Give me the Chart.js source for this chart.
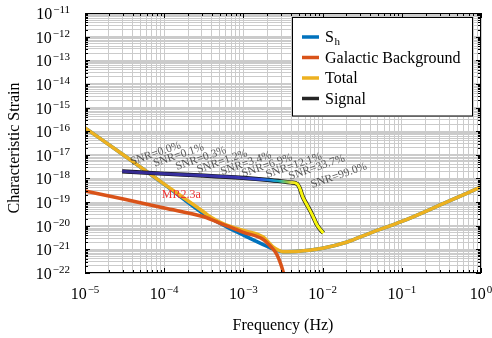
<!DOCTYPE html>
<html>
<head>
<meta charset="utf-8">
<script src="https://cdn.jsdelivr.net/npm/chart.js@4.4.1/dist/chart.umd.min.js"></script>
<style>
  html, body { margin: 0; padding: 0; background: #fff; }
  #wrap { width: 492px; height: 338px; }
</style>
</head>
<body>
<div id="wrap"><canvas id="strain" width="492" height="338"></canvas></div>
<script>
// instrument noise (Hz -> characteristic strain)
const shFreq   = [1e-5, 3.16e-5, 1e-4, 3.16e-4, 5.62e-4, 1e-3, 1.78e-3, 2.51e-3, 3.16e-3, 5.0e-3, 1e-2, 2.0e-2, 3.98e-2, 0.1, 0.316, 1];
const shStrain = [1.38e-16, 9.12e-18, 5.62e-19, 3.16e-20, 1.05e-20, 3.98e-21, 1.58e-21, 9.55e-22, 7.94e-22, 8.32e-22, 1.12e-21, 2.0e-21, 4.9e-21, 1.51e-20, 7.94e-20, 4.37e-19];

// galactic confusion foreground
const galFreq   = [1e-5, 3.16e-5, 1e-4, 3.16e-4, 5.62e-4, 1e-3, 1.78e-3, 2.24e-3, 2.63e-3, 2.95e-3, 3.24e-3, 3.55e-3];
const galStrain = [2.95e-19, 1.32e-19, 5.62e-20, 2.4e-20, 1.12e-20, 5.25e-21, 2.63e-21, 1.26e-21, 6.31e-22, 2.51e-22, 8.91e-23, 2.51e-23];

// combined sensitivity
const totalFreq   = [1e-5, 3.16e-5, 1e-4, 3.16e-4, 3.8e-4, 5.62e-4, 1e-3, 1.78e-3, 2.34e-3, 2.75e-3, 3.16e-3, 5.0e-3, 1e-2, 2.0e-2, 3.98e-2, 0.1, 0.316, 1];
const totalStrain = [1.38e-16, 9.12e-18, 5.75e-19, 3.8e-20, 2.4e-20, 1.2e-20, 6.31e-21, 3.31e-21, 1.32e-21, 9.33e-22, 7.94e-22, 8.32e-22, 1.12e-21, 2.0e-21, 4.9e-21, 1.51e-20, 7.94e-20, 4.37e-19];

// source track
const sigFreq   = [2.95e-5, 1e-4, 3.16e-4, 1e-3, 2.0e-3, 3.16e-3, 3.98e-3, 4.79e-3, 5.13e-3, 5.62e-3, 6.31e-3, 7.41e-3, 8.51e-3, 1.02e-2];
const sigStrain = [2.0e-18, 1.58e-18, 1.32e-18, 1.05e-18, 8.71e-19, 7.41e-19, 6.76e-19, 5.89e-19, 3.98e-19, 1.66e-19, 7.94e-20, 2.88e-20, 1.07e-20, 4.9e-21];

// accumulated SNR markers along the track
const snrText   = ['SNR=0.0%', 'SNR=0.1%', 'SNR=0.3%', 'SNR=1.2%', 'SNR=3.4%', 'SNR=6.9%', 'SNR=12.1%', 'SNR=33.7%', 'SNR=99.0%'];
const snrFreq   = [3.89e-5, 7.59e-5, 1.45e-4, 2.69e-4, 5.37e-4, 9.89e-4, 2.0e-3, 3.89e-3, 7.41e-3];
const snrStrain = [3.72e-18, 3.09e-18, 2.29e-18, 1.70e-18, 1.41e-18, 1.15e-18, 1.05e-18, 8.71e-19, 3.98e-19];

const mrText = 'MR2.3a';
const mrFreq = 9.33e-5;
const mrStrain = 1.48e-19;

const xExp = [-5, -4, -3, -2, -1, 0];
const yExp = [-22, -21, -20, -19, -18, -17, -16, -15, -14, -13, -12, -11];

const SERIF = "'Liberation Serif', 'Times New Roman', serif";
const C_SH = '#0072BD';
const C_GAL = '#D95319';
const C_TOT = '#EDB120';
const C_SIG = '#262626';

// colour along the signal track, dark early on, yellow near merger
const signalStops = [
  [2.95e-5, '#35298f'],
  [1.0e-3, '#3a36b2'],
  [1.6e-3, '#3048d6'],
  [2.2e-3, '#1685d6'],
  [2.8e-3, '#1cb1b6'],
  [3.4e-3, '#7fc35c'],
  [4.0e-3, '#d9d23c'],
  [4.5e-3, '#f7f20f'],
  [1.2e-2, '#f9fb0e']
];

function pts(xs, ys) {
  return xs.map((x, i) => ({ x, y: ys[i] }));
}

function decadeTicks(lo, hi) {
  const out = [];
  for (let e = lo; e < hi; e++) {
    for (let m = 1; m < 10; m++) out.push({ value: m * Math.pow(10, e), major: m === 1 });
  }
  out.push({ value: Math.pow(10, hi), major: true });
  return out;
}

function signalGradient(context) {
  const chart = context.chart;
  const area = chart.chartArea;
  if (!area) return signalStops[0][1];
  const xs = chart.scales.x;
  const g = chart.ctx.createLinearGradient(area.left, 0, area.right, 0);
  signalStops.forEach(([f, c]) => {
    const off = (xs.getPixelForValue(f) - area.left) / (area.right - area.left);
    g.addColorStop(Math.min(1, Math.max(0, off)), c);
  });
  return g;
}

// "10" with a raised exponent
function drawPow(ctx, exp, x, baseY, align) {
  const big = '16px ' + SERIF;
  const small = '11px ' + SERIF;
  const sup = exp < 0 ? '\u2212' + Math.abs(exp) : String(exp);
  ctx.font = big;
  const w1 = ctx.measureText('10').width;
  ctx.font = small;
  const w2 = ctx.measureText(sup).width;
  const total = w1 + w2 + 1;
  let x0 = align === 'right' ? x - total : x - total / 2;
  ctx.textAlign = 'left';
  ctx.textBaseline = 'alphabetic';
  ctx.font = big;
  ctx.fillText('10', x0, baseY);
  ctx.font = small;
  ctx.fillText(sup, x0 + w1 + 1, baseY - 6);
}

const framePlugin = {
  id: 'frame',
  afterDatasetsDraw(chart) {
    const { ctx, chartArea: a, scales } = chart;
    const xs = scales.x, ys = scales.y;
    ctx.save();

    // SNR annotations
    ctx.fillStyle = 'rgba(60,60,60,0.85)';
    ctx.font = '11.5px ' + SERIF;
    ctx.textAlign = 'left';
    ctx.textBaseline = 'alphabetic';
    snrText.forEach((t, i) => {
      ctx.save();
      ctx.translate(xs.getPixelForValue(snrFreq[i]), ys.getPixelForValue(snrStrain[i]));
      ctx.rotate(-19 * Math.PI / 180);
      ctx.fillText(t, 0, 0);
      ctx.restore();
    });
    ctx.fillStyle = '#f03434';
    ctx.font = '12px ' + SERIF;
    ctx.fillText(mrText, xs.getPixelForValue(mrFreq), ys.getPixelForValue(mrStrain));

    // inward ticks on all four sides
    ctx.strokeStyle = '#000';
    ctx.lineWidth = 1;
    ctx.beginPath();
    xs.ticks.forEach(t => {
      const px = Math.round(xs.getPixelForValue(t.value)) + 0.5;
      const len = t.major ? 5 : 3;
      ctx.moveTo(px, a.bottom); ctx.lineTo(px, a.bottom - len);
      ctx.moveTo(px, a.top); ctx.lineTo(px, a.top + len);
    });
    ys.ticks.forEach(t => {
      const py = Math.round(ys.getPixelForValue(t.value)) + 0.5;
      const len = t.major ? 5 : 3;
      ctx.moveTo(a.left, py); ctx.lineTo(a.left + len, py);
      ctx.moveTo(a.right, py); ctx.lineTo(a.right - len, py);
    });
    ctx.stroke();
    ctx.strokeRect(a.left + 0.5, a.top + 0.5, a.right - a.left - 1, a.bottom - a.top - 1);

    // tick labels
    ctx.fillStyle = '#000';
    xExp.forEach(e => drawPow(ctx, e, xs.getPixelForValue(Math.pow(10, e)), 298.5, 'center'));
    yExp.forEach(e => drawPow(ctx, e, 70, ys.getPixelForValue(Math.pow(10, e)) + 6, 'right'));

    // axis titles
    ctx.font = '16px ' + SERIF;
    ctx.textAlign = 'center';
    ctx.textBaseline = 'alphabetic';
    ctx.fillText('Frequency (Hz)', (a.left + a.right) / 2, 330);
    ctx.save();
    ctx.translate(19, 148);
    ctx.rotate(-Math.PI / 2);
    ctx.fillText('Characteristic Strain', 0, 0);
    ctx.restore();

    // legend box
    const items = chart.data.datasets.filter(d => d.label);
    const bx = 292.5, by = 17.5, bw = 180, bh = 98.5;
    ctx.fillStyle = '#fff';
    ctx.fillRect(bx, by, bw, bh);
    ctx.strokeStyle = '#000';
    ctx.strokeRect(bx, by, bw, bh);
    items.forEach((d, i) => {
      const cy = 37 + i * 20.5;
      ctx.strokeStyle = d.legendColor || d.borderColor;
      ctx.lineWidth = 3.5;
      ctx.beginPath();
      ctx.moveTo(302, cy);
      ctx.lineTo(319, cy);
      ctx.stroke();
      ctx.fillStyle = '#000';
      ctx.textAlign = 'left';
      ctx.textBaseline = 'middle';
      const [main, sub] = d.label.split('_');
      ctx.font = '16px ' + SERIF;
      ctx.fillText(main, 325, cy + 1);
      if (sub) {
        const w = ctx.measureText(main).width;
        ctx.font = '11px ' + SERIF;
        ctx.fillText(sub, 325 + w + 0.5, cy + 5);
      }
    });
    ctx.restore();
  }
};

const lineStyle = { pointRadius: 0, fill: false, cubicInterpolationMode: 'monotone', clip: 0 };

new Chart(document.getElementById('strain'), {
  type: 'line',
  data: {
    datasets: [
      { ...lineStyle, label: 'S_h', data: pts(shFreq, shStrain), borderColor: C_SH, borderWidth: 3.5, order: 5 },
      { ...lineStyle, label: 'Galactic Background', data: pts(galFreq, galStrain), borderColor: C_GAL, borderWidth: 3.5, order: 3 },
      { ...lineStyle, label: 'Total', data: pts(totalFreq, totalStrain), borderColor: C_TOT, borderWidth: 3.5, order: 4 },
      { ...lineStyle, label: 'Signal', data: pts(sigFreq, sigStrain), borderColor: '#111', legendColor: C_SIG, borderWidth: 4.2, order: 2 },
      { ...lineStyle, label: '', data: pts(sigFreq, sigStrain), borderColor: signalGradient, borderWidth: 3, order: 1 }
    ]
  },
  options: {
    responsive: false,
    animation: false,
    layout: { padding: { left: 85, right: 11, top: 13, bottom: 65 } },
    plugins: { legend: { display: false }, tooltip: { enabled: false } },
    scales: {
      x: {
        type: 'logarithmic',
        min: 1e-5,
        max: 1,
        afterBuildTicks: s => { s.ticks = decadeTicks(-5, 0); },
        afterFit: s => { s.height = 0; },
        ticks: { display: false },
        grid: { color: '#cbcbcb', lineWidth: 1, drawTicks: false },
        border: { display: false }
      },
      y: {
        type: 'logarithmic',
        min: 1e-22,
        max: 1e-11,
        afterBuildTicks: s => { s.ticks = decadeTicks(-22, -11); },
        afterFit: s => { s.width = 0; },
        ticks: { display: false },
        grid: { color: '#cbcbcb', lineWidth: 1, drawTicks: false },
        border: { display: false }
      }
    }
  },
  plugins: [framePlugin]
});
</script>
</body>
</html>
